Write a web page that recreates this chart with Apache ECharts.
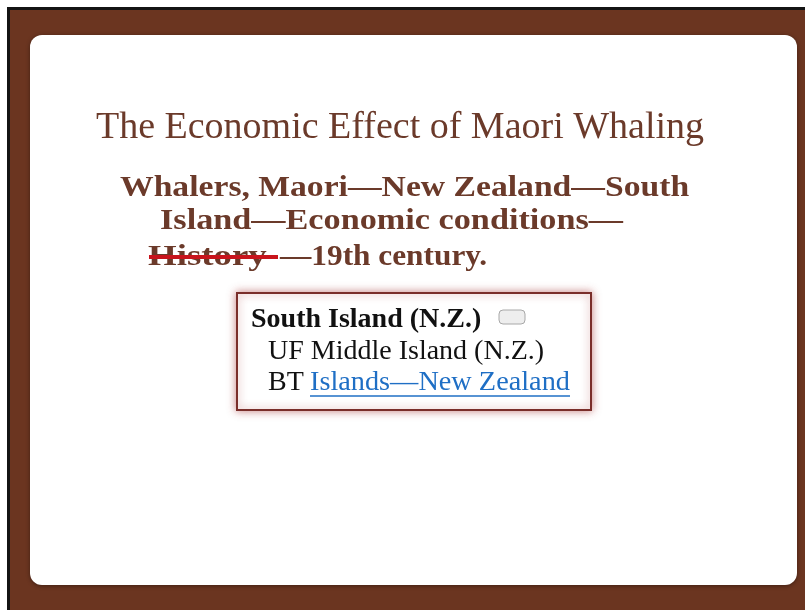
<!DOCTYPE html>
<html>
<head>
<meta charset="utf-8">
<script src="https://cdn.jsdelivr.net/npm/echarts@6/dist/echarts.min.js"></script>
<style>
  html, body { margin: 0; padding: 0; background: #fff; }
  #main { width: 805px; height: 610px; }
</style>
</head>
<body>
<div id="main"></div>
<script>
// slide texts
var titleText = 'The Economic Effect of Maori Whaling';
var headingLines = ['Whalers, Maori\u2014New Zealand\u2014South', 'Island\u2014Economic conditions\u2014', '\u201419th century.'];
var struckWord = 'History';
var boxLines = ['South Island (N.Z.)', 'UF Middle Island (N.Z.)', 'BT'];
var linkText = 'Islands\u2014New Zealand';

var brown = '#6b3a2a';
var chart = echarts.init(document.getElementById('main'));

var serif = '"Liberation Serif", serif';
var headFont = 'bold 29px ' + serif;
var boxFont = '28px ' + serif;

function txt(x, y, text, font, fill, sx) {
  return {
    type: 'text', x: x, y: y, scaleX: sx || 1,
    style: { text: text, fill: fill, font: font, align: 'left', verticalAlign: 'middle' }
  };
}

var graphics = [
  // frame
  { type: 'rect', shape: { x: 0, y: 0, width: 805, height: 610 }, style: { fill: '#ffffff' } },
  { type: 'rect', shape: { x: 7, y: 7, width: 798, height: 603 }, style: { fill: '#141414' } },
  { type: 'rect', shape: { x: 10, y: 10, width: 795, height: 600 }, style: { fill: '#6b3520' } },
  { type: 'rect', shape: { x: 30, y: 35, width: 767, height: 550, r: 12 },
    style: { fill: '#ffffff', shadowBlur: 4, shadowColor: 'rgba(0,0,0,0.4)', shadowOffsetY: 1 } },
  // title
  { type: 'text', x: 400, y: 128,
    style: { text: titleText, fill: brown, font: 'normal 38px ' + serif, align: 'center', verticalAlign: 'middle' } },
  // heading
  txt(120, 189, headingLines[0], headFont, brown, 1.16),
  txt(160, 222, headingLines[1], headFont, brown, 1.18),
  txt(148, 258, struckWord, headFont, brown, 1.27),
  { type: 'line', shape: { x1: 149, y1: 257, x2: 278, y2: 257 }, style: { stroke: '#c8141c', lineWidth: 4 } },
  txt(280, 258, headingLines[2], headFont, brown, 1.08),
  // authority box
  { type: 'rect', shape: { x: 237, y: 293, width: 354, height: 117 },
    style: { fill: '#ffffff', stroke: '#7a2e2a', lineWidth: 2, shadowBlur: 8, shadowColor: 'rgba(170,60,60,0.6)' } },
  txt(251, 320, boxLines[0], 'bold ' + boxFont, '#111'),
  { type: 'rect', shape: { x: 499, y: 310, width: 26, height: 14, r: 4 },
    style: { fill: '#eeeeee', stroke: '#a8a8a8', lineWidth: 1 } },
  txt(268, 352, boxLines[1], boxFont, '#111'),
  txt(268, 383, boxLines[2], boxFont, '#111'),
  txt(310, 383, linkText, boxFont, '#1f6fc5', 1.01),
  { type: 'line', shape: { x1: 310, y1: 396, x2: 570, y2: 396 }, style: { stroke: '#1f6fc5', lineWidth: 1.5 } }
];

chart.setOption({
  animation: false,
  graphic: graphics
});

window.addEventListener('resize', function () { chart.resize(); });
</script>
</body>
</html>
